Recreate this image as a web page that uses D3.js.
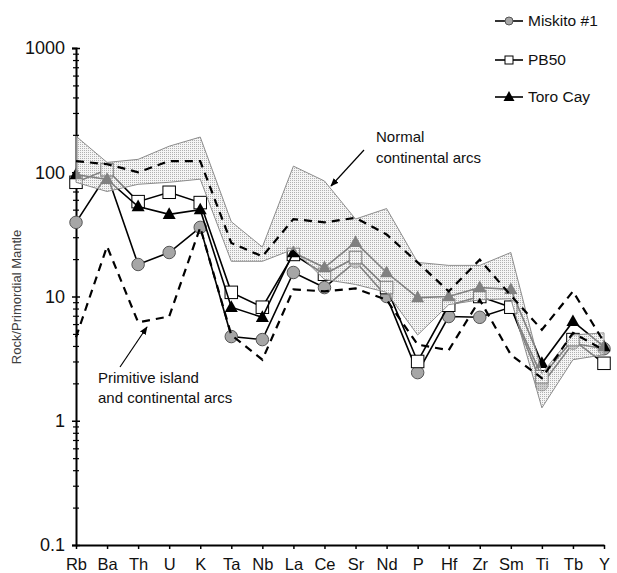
<!DOCTYPE html>
<html>
<head>
<meta charset="utf-8">
<script src="https://cdn.jsdelivr.net/npm/d3@7"></script>
<style>
  body { margin: 0; background: #fff; }
  svg { display: block; font-family: "Liberation Sans", Arial, sans-serif; }
</style>
</head>
<body>
<div id="chart"></div>
<script>
// element order on the spider diagram
const elements = ["Rb", "Ba", "Th", "U", "K", "Ta", "Nb", "La", "Ce", "Sr", "Nd", "P", "Hf", "Zr", "Sm", "Ti", "Tb", "Y"];

// samples (rock / primordial mantle)
const miskito = [39.5, 96, 18.1, 22.6, 36, 4.76, 4.5, 15.6, 11.8, 19.1, 10, 2.44, 6.9, 6.8, 8.2, 1.95, 4.2, 3.8];
const pb50 = [83, 105, 58, 69, 57, 10.8, 8.2, 21.8, 15.1, 20.6, 11.8, 3.0, 8.5, 10, 8.2, 2.26, 4.5, 2.9];
const toroCay = [96, 87.6, 53, 45.8, 50, 8.2, 6.8, 22.6, 17.1, 27.3, 15.6, 9.8, 10, 11.8, 11.4, 2.9, 6.3, 3.95];

// normal continental arcs: range and average
const normalUpper = [195, 120, 127, 162, 192, 40, 25, 112, 85, 42, 51, 18.8, 17.8, 17.8, 22.6, 2.4, 4.9, 5.1];
const normalLower = [83, 70, 80, 83, 88, 19.2, 19.2, 24, 13.7, 12.5, 10.8, 4.9, 8.6, 9.4, 9.6, 1.27, 3.1, 3.4];
const normalMean = [123, 116, 100, 123, 123, 27, 21, 42, 39.5, 43, 31.6, 18.8, 11, 19.8, 10.2, 5.4, 11, 4.3];

// primitive island and continental arcs
const primitive = [4.7, 25.3, 6.2, 6.9, 36, 4.9, 3.1, 11.4, 11, 11.6, 9.4, 4.1, 3.7, 9.4, 3.4, 2.2, 5.1, 3.7];

const yTicks = [0.1, 1, 10, 100, 1000];

const width = 617;
const height = 573;

const svg = d3.select("#chart")
  .append("svg")
  .attr("width", width)
  .attr("height", height);

const x = d3.scalePoint().domain(elements).range([76, 604]);
const y = d3.scaleLog().domain([0.1, 1000]).range([545, 48]);

// stipple fill for the arc field
const defs = svg.append("defs");
const pat = defs.append("pattern")
  .attr("id", "stipple")
  .attr("width", 2)
  .attr("height", 2)
  .attr("patternUnits", "userSpaceOnUse");
pat.append("rect").attr("width", 2).attr("height", 2).attr("fill", "rgba(236,236,236,0.55)");
pat.append("rect").attr("width", 1).attr("height", 1).attr("fill", "rgba(120,120,120,0.55)");

defs.append("marker")
  .attr("id", "arrow")
  .attr("viewBox", "0 0 10 10")
  .attr("refX", 9)
  .attr("refY", 5)
  .attr("markerWidth", 7)
  .attr("markerHeight", 7)
  .attr("orient", "auto")
  .append("path")
  .attr("d", "M0,1L10,5L0,9z")
  .attr("fill", "#000");

// minor ticks
const minor = [];
yTicks.slice(0, -1).forEach(t => {
  for (let k = 2; k <= 9; k++) minor.push(t * k);
});

const yAxisL = d3.axisLeft(y).tickValues(yTicks).tickSize(4).tickPadding(7)
  .tickFormat(d => d < 1 ? "0.1" : d3.format("d")(d));
svg.append("g")
  .attr("transform", "translate(76,0)")
  .call(yAxisL)
  .call(g => g.select(".domain").attr("stroke-width", 2))
  .call(g => g.selectAll(".tick line").attr("stroke-width", 1.5))
  .call(g => g.selectAll("text").attr("font-size", 18).attr("fill", "#111"));

svg.append("g")
  .attr("transform", "translate(76,0)")
  .call(d3.axisRight(y).tickValues(yTicks).tickSize(4).tickFormat(""))
  .call(g => g.select(".domain").remove())
  .call(g => g.selectAll(".tick line").attr("stroke-width", 1.5));

svg.append("g")
  .attr("transform", "translate(76,0)")
  .call(d3.axisLeft(y).tickValues(minor).tickSize(3).tickFormat(""))
  .call(g => g.select(".domain").remove())
  .call(g => g.selectAll(".tick line").attr("stroke-width", 1.2))
  .clone(true)
  .call(g => g.selectAll(".tick line").attr("x2", 3));

const xAxis = d3.axisBottom(x).tickSize(4).tickSizeOuter(0).tickPadding(9);
svg.append("g")
  .attr("transform", "translate(0,545)")
  .call(xAxis)
  .call(g => g.select(".domain").attr("stroke-width", 2))
  .call(g => g.selectAll(".tick line").attr("stroke-width", 1.5))
  .call(g => g.selectAll("text").attr("font-size", 16.5).attr("fill", "#111"));

svg.append("text")
  .attr("transform", "translate(21,297) rotate(-90)")
  .attr("text-anchor", "middle")
  .attr("font-size", 13)
  .attr("fill", "#404040")
  .text("Rock/Primordial Mantle");

// sample series
const line = d3.line().x((d, i) => x(elements[i])).y(d => y(d));

const series = [
  { name: "Miskito #1", values: miskito, shape: "circle" },
  { name: "PB50", values: pb50, shape: "square" },
  { name: "Toro Cay", values: toroCay, shape: "triangle" }
];

function drawMarker(g, shape, cx, cy, s) {
  if (shape === "circle") {
    g.append("circle").attr("cx", cx).attr("cy", cy).attr("r", s / 2)
      .attr("fill", "#a6a6a6").attr("stroke", "#555").attr("stroke-width", 1);
  } else if (shape === "square") {
    g.append("rect").attr("x", cx - s / 2).attr("y", cy - s / 2)
      .attr("width", s).attr("height", s)
      .attr("fill", "#fff").attr("stroke", "#000").attr("stroke-width", 1);
  } else {
    const h = s * 0.9;
    g.append("path")
      .attr("d", `M${cx},${cy - h * 0.6}L${cx + s / 2},${cy + h * 0.4}L${cx - s / 2},${cy + h * 0.4}Z`)
      .attr("fill", "#000");
  }
}

series.forEach(s => {
  const g = svg.append("g");
  g.append("path")
    .datum(s.values)
    .attr("d", line)
    .attr("fill", "none")
    .attr("stroke", "#000")
    .attr("stroke-width", 1.6);
  s.values.forEach((v, i) => drawMarker(g, s.shape, x(elements[i]), y(v), s.shape === "triangle" ? 13 : 12.5));
});

// normal continental arcs field, drawn over the samples
const area = d3.area()
  .x((d, i) => x(elements[i]))
  .y0((d, i) => y(normalLower[i]))
  .y1(d => y(d));

svg.append("path")
  .datum(normalUpper)
  .attr("d", area)
  .attr("fill", "url(#stipple)")
  .attr("stroke", "#8c8c8c")
  .attr("stroke-width", 1);

[normalMean, primitive].forEach(vals => {
  svg.append("path")
    .datum(vals)
    .attr("d", line)
    .attr("fill", "none")
    .attr("stroke", "#000")
    .attr("stroke-width", 2.2)
    .attr("stroke-dasharray", "8,6");
});

// annotations
svg.append("text").attr("x", 376).attr("y", 142).attr("font-size", 15).attr("fill", "#111").text("Normal");
svg.append("text").attr("x", 376).attr("y", 163).attr("font-size", 15).attr("fill", "#111").text("continental arcs");
svg.append("line")
  .attr("x1", 364).attr("y1", 150).attr("x2", 331).attr("y2", 186)
  .attr("stroke", "#000").attr("stroke-width", 1.2)
  .attr("marker-end", "url(#arrow)");

svg.append("text").attr("x", 98).attr("y", 383).attr("font-size", 15).attr("fill", "#111").text("Primitive island");
svg.append("text").attr("x", 98).attr("y", 403).attr("font-size", 15).attr("fill", "#111").text("and continental arcs");
svg.append("line")
  .attr("x1", 120).attr("y1", 367).attr("x2", 147).attr("y2", 327)
  .attr("stroke", "#000").attr("stroke-width", 1.2)
  .attr("marker-end", "url(#arrow)");

// legend
const legend = svg.append("g").attr("id", "legend");
series.forEach((s, i) => {
  const ly = [21, 60, 97][i];
  legend.append("line")
    .attr("x1", 495).attr("x2", 523).attr("y1", ly).attr("y2", ly)
    .attr("stroke", "#000").attr("stroke-width", 1.6);
  drawMarker(legend, s.shape, 509, ly, s.shape === "triangle" ? 11 : 8);
  legend.append("text")
    .attr("x", 528).attr("y", ly + 5)
    .attr("font-size", 15.5).attr("fill", "#111")
    .text(s.name);
});
</script>
</body>
</html>
